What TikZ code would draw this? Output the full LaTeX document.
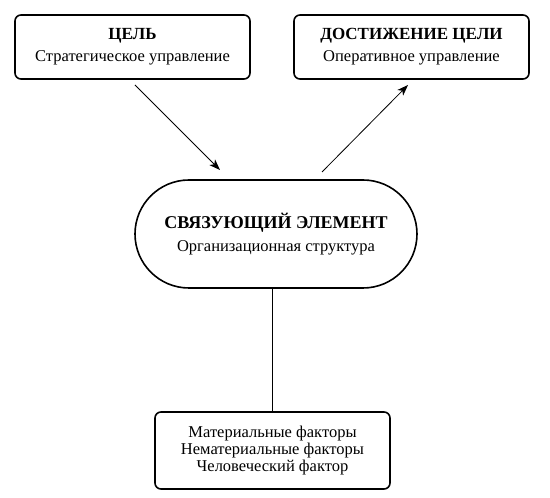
\documentclass[tikz,border=0pt]{standalone}
\usepackage{fontspec}
\setmainfont{Liberation Serif}
\usetikzlibrary{arrows.meta}
\usetikzlibrary{calc}

\tikzset{
	blok/.style={draw, line width=1.6pt, rounded corners=6pt, align=center, minimum width=235pt, inner sep=0pt},
	svyazka/.style={draw, line width=1.6pt, rounded corners=54pt, align=center, minimum width=282pt, minimum height=108pt, inner sep=0pt},
	strelka/.style={-{Stealth[length=11pt, width=8pt, inset=3pt]}, line width=0.8pt},
}

\begin{document}
\begin{tikzpicture}[x=1pt, y=1pt, font=\fontsize{16.5}{17}\selectfont]
	\useasboundingbox (0,0) rectangle (550,498);

	\node[blok, minimum height=64pt] (cel) at (132.5,451) {{\fontsize{17}{20}\selectfont\bfseries ЦЕЛЬ}\\[5pt] Стратегическое управление};
	\node[blok, minimum height=64pt] (dost) at (411.5,451) {{\fontsize{17}{20}\selectfont\bfseries ДОСТИЖЕНИЕ ЦЕЛИ}\\[5pt] Оперативное управление};
	\node[svyazka] (svyaz) at (276,264) {{\fontsize{18}{20}\selectfont\bfseries СВЯЗУЮЩИЙ ЭЛЕМЕНТ}\\[6pt] Организационная структура};
	\node[blok, minimum height=77pt] (fakt) at (272.5,47.5) {Материальные факторы\\ Нематериальные факторы\\ Человеческий фактор};

	\coordinate (c1) at (135,413);
	\coordinate (c2) at (220,328);
	\coordinate (d1) at (322,326);
	\coordinate (d2) at (408,413);

	\draw[strelka] (c1) -- (c2);
	\draw[strelka] (d1) -- (d2);
	\draw[line width=0.8pt] (svyaz.south -| fakt.north) -- (fakt.north);
\end{tikzpicture}
\end{document}
